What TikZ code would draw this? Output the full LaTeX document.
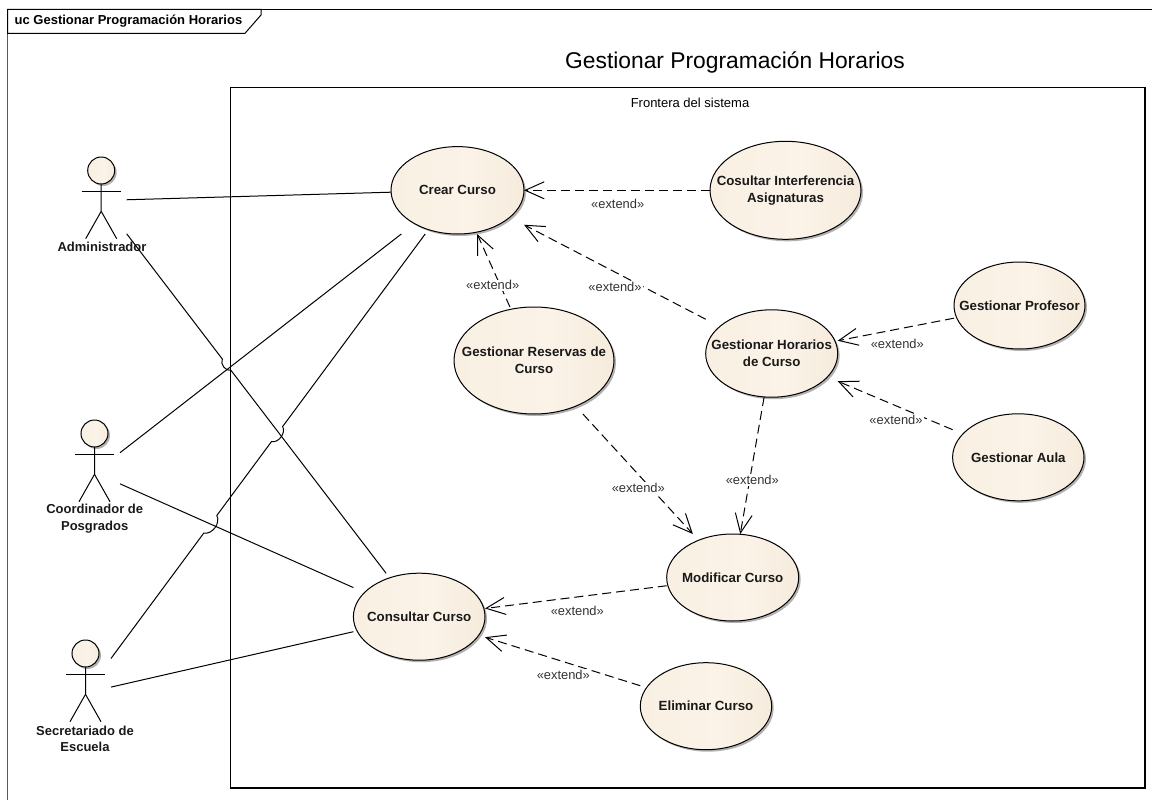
\documentclass[tikz,border=0pt]{standalone}
\usepackage{fontspec}
\setmainfont{Liberation Sans}
\usetikzlibrary{shapes.geometric,shadows,arrows.meta,calc}
\definecolor{ucleft}{HTML}{F9F0E3}
\definecolor{ucmid}{HTML}{FBF3E8}
\definecolor{ucright}{HTML}{E9DAC3}
\pgfdeclarehorizontalshading{ucshade}{100bp}{color(0bp)=(ucleft); color(25bp)=(ucleft); color(55bp)=(ucmid); color(75bp)=(ucmid!70!ucright); color(100bp)=(ucright)}
\tikzstyle{ucfill} = [ellipse, draw, line width=1pt, inner sep=0pt, outer sep=0pt, shading=ucshade, drop shadow={shadow xshift=2pt, shadow yshift=-2pt, fill=black!60}]
\tikzstyle{ucbox} = [rectangle, inner sep=0pt, outer sep=0pt, align=center, text=black!90, font=\fontsize{13.3}{17}\selectfont\bfseries]
\tikzstyle{actorhead} = [ucfill, circle, minimum size=27pt]
\tikzstyle{actorbox} = [rectangle, inner sep=0pt, outer sep=0pt, minimum width=51pt, minimum height=80pt]
\tikzstyle{actorname} = [align=center, inner sep=0pt, text=black!90, font=\fontsize{13}{16.5}\selectfont\bfseries]
\tikzstyle{assoc} = [draw, line width=1pt]
\tikzstyle{extend} = [draw, line width=1pt, dash pattern=on 9pt off 5pt, -{Straight Barb[length=19pt, width=17pt]}]
\tikzstyle{extlabel} = [fill=white, inner sep=1pt, text=black!80, font=\fontsize{12.9}{15}\selectfont]
\newcommand{\ucase}[6]{
	\node [ucfill, minimum width=#4, minimum height=#5] (#1shape) at (#2,#3) {};
	\node [ucbox, minimum width=#4, minimum height=#5] (#1) at (#2,#3) {#6};
}
\newcommand{\actor}[4]{
	\node [actorhead] (#1head) at (#2,#3) {};
	\draw [line width=1pt] (#1head.south) -- ++(0,27.3) coordinate (#1hip) -- ++(-15.5,27.4);
	\draw [line width=1pt] (#1hip) -- ++(15.5,27.4);
	\draw [line width=1pt] ($(#1head)+(-19.5,20.8)$) -- ++(39,0);
	\node [actorbox] (#1) at (#2,#4) {};
}
\begin{document}
\begin{tikzpicture}[x=1pt, y=-1pt]
		\useasboundingbox (0,0) rectangle (1152,800);
		
		\draw [line width=1.2pt, black!65] (7.5,800) -- (7.5,9.3);
		\draw [line width=1pt] (7.5,9.3) -- (1152,9.3);
		\draw [line width=1pt, fill=white] (7.5,9.3) -- (261,9.3) -- (261,15) -- (245,33.3) -- (7.5,33.3) -- cycle;
		\node [anchor=west, inner sep=0pt, font=\fontsize{13}{15}\selectfont\bfseries] (tab) at (14.5,21.5) {uc Gestionar Programación Horarios};
		\node [font=\fontsize{22.8}{26}\selectfont, inner sep=0pt] (title) at (735,62) {Gestionar Programación Horarios};
		
		\node [rectangle, draw, line width=1.1pt, inner sep=0pt, outer sep=0pt, minimum width=914.5pt, minimum height=700.3pt] (frontera) at (687.75,437.85) {};
		\node [inner sep=0pt, font=\fontsize{13}{15}\selectfont] (fronteralabel) at (690,102.5) {Frontera del sistema};
		
		\ucase{crear}{457.5}{190.3}{133}{87.4}{Crear Curso}
		\ucase{cosultar}{785.5}{190.3}{151}{98}{Cosultar Interferencia\\Asignaturas}
		\ucase{reservas}{534}{360.5}{160}{107}{Gestionar Reservas de\\Curso}
		\ucase{horarios}{771.7}{353.5}{132}{87.4}{Gestionar Horarios\\de Curso}
		\ucase{profesor}{1019.5}{305.5}{131}{87}{Gestionar Profesor}
		\ucase{aula}{1018.3}{457.3}{131.4}{87}{Gestionar Aula}
		\ucase{modificar}{732.7}{577.5}{132}{87}{Modificar Curso}
		\ucase{eliminar}{706}{706.2}{131.4}{87}{Eliminar Curso}
		\ucase{consultar}{419.2}{616.7}{131.6}{87}{Consultar Curso}
		
		\actor{admin}{101.2}{170.5}{200.5}
		\actor{coord}{94.5}{433.5}{472.5}
		\actor{secre}{85.5}{653.5}{692.9}
		\node [actorname] (adminname) at (102,247) {Administrador};
		\node [actorname] (coordname) at (94.7,518.7) {Coordinador de\\Posgrados};
		\node [actorname] (secrename) at (85,739) {Secretariado de\\Escuela};
		
		\coordinate (hopa) at ($(admin)!0.381!(consultar)$);
		\coordinate (hopb) at ($(admin)!0.408!(consultar)$);
		\coordinate (hopc) at ($(secre)!0.318!(crear)$);
		\coordinate (hopd) at ($(secre)!0.353!(crear)$);
		\coordinate (hope) at ($(secre)!0.5!(crear)$);
		\coordinate (hopf) at ($(secre)!0.53!(crear)$);
		
		\path [assoc] (admin) -- (crear);
		\path [assoc] (admin) -- (hopa) to [bend right=65] (hopb) -- (consultar);
		\path [assoc] (coord) -- (crear);
		\path [assoc] (coord) -- (consultar);
		\path [assoc] (secre) -- (hopc) to [bend right=65] (hopd) -- (hope) to [bend right=65] (hopf) -- (crear);
		\path [assoc] (secre) -- (consultar);
		
		\path [extend] (cosultar) -- (crear);
		\path [extend] (horarios) -- (crear);
		\path [extend] (reservas) -- (crear);
		\path [extend] (reservas) -- (modificar);
		\path [extend] (horarios) -- (modificar);
		\path [extend] (profesor) -- (horarios);
		\path [extend] (aula) -- (horarios);
		\path [extend] (modificar) -- (consultar);
		\path [extend] (eliminar) -- (consultar);
		
		\node [extlabel] (ext1) at (617.7,204) {«extend»};
		\node [extlabel] (ext2) at (615,286.7) {«extend»};
		\node [extlabel] (ext3) at (492.7,285.3) {«extend»};
		\node [extlabel] (ext4) at (638.3,487.7) {«extend»};
		\node [extlabel] (ext5) at (752.3,480) {«extend»};
		\node [extlabel] (ext6) at (897.3,344) {«extend»};
		\node [extlabel] (ext7) at (896,420) {«extend»};
		\node [extlabel] (ext8) at (577.3,610.7) {«extend»};
		\node [extlabel] (ext9) at (563.3,675) {«extend»};
\end{tikzpicture}
\end{document}
